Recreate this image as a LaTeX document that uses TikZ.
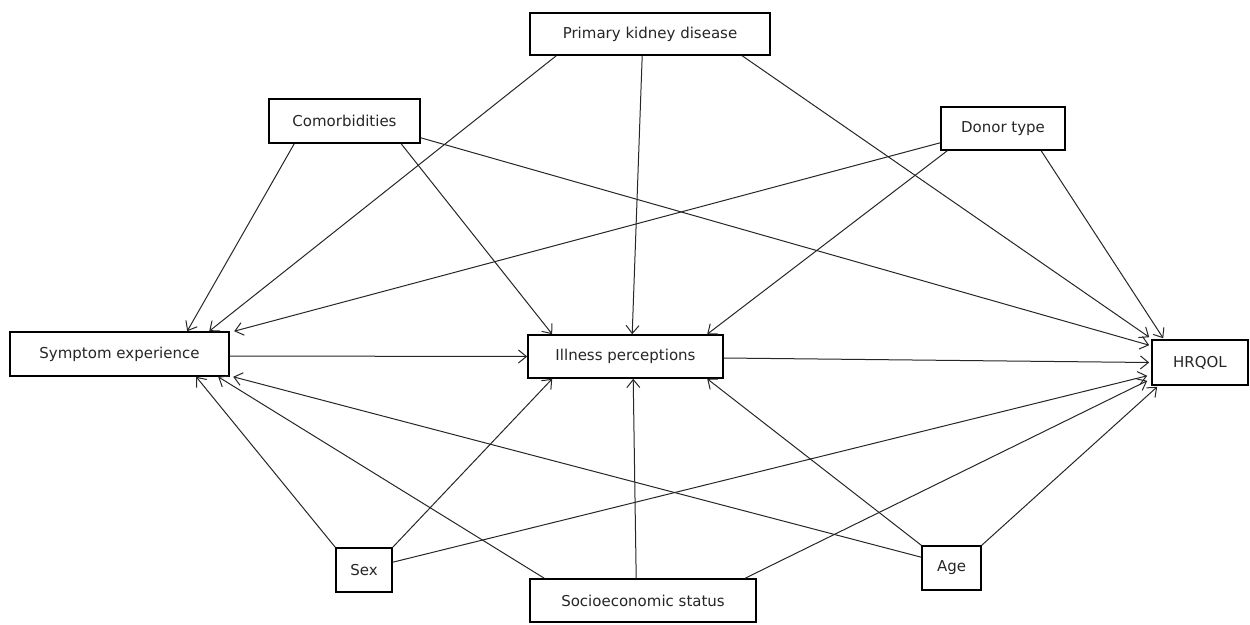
\documentclass[tikz,border=0pt]{standalone}
\usepackage{fontspec}
\setmainfont{DejaVu Sans}
\usetikzlibrary{arrows.meta}
\tikzset{
  box/.style={draw=black, line width=1.6pt, fill=white, inner sep=0pt, font=\fontsize{15}{18}\selectfont, text=black!85},
  arr/.style={draw=black!85, line width=1pt, -{Straight Barb[length=8pt,width=13pt]}},
}
\begin{document}
\begin{tikzpicture}[x=1pt,y=-1pt]
\useasboundingbox (0,0) rectangle (1250,624);
% nodes
\node[box, minimum width=240pt, minimum height=42pt] (pkd) at (650,34) {Primary kidney disease};
\node[box, minimum width=151pt, minimum height=44pt] (com) at (344.5,121) {Comorbidities};
\node[box, minimum width=124pt, minimum height=43pt] (don) at (1003,128.5) {Donor type};
\node[box, minimum width=219pt, minimum height=44pt] (sym) at (119.5,354) {Symptom experience};
\node[box, minimum width=195pt, minimum height=43pt] (ill) at (625.5,356.5) {Illness perceptions};
\node[box, minimum width=96pt, minimum height=45pt] (hrq) at (1200,362.5) {HRQOL};
\node[box, minimum width=56pt, minimum height=44pt] (sex) at (364,570) {Sex};
\node[box, minimum width=59pt, minimum height=44pt] (age) at (951.5,568) {Age};
\node[box, minimum width=226pt, minimum height=43pt] (ses) at (643,600.5) {Socioeconomic status};
% primary kidney disease
\draw[arr] ([xshift=27pt]pkd.south west) -- ([xshift=200pt]sym.north west);
\draw[arr] ([xshift=113pt]pkd.south west) -- ([xshift=105pt]ill.north west);
\draw[arr] ([xshift=213pt]pkd.south west) -- ([xshift=-2pt,yshift=2pt]hrq.north west);
% comorbidities
\draw[arr] ([xshift=26pt]com.south west) -- ([xshift=178pt]sym.north west);
\draw[arr] ([xshift=133pt]com.south west) -- ([xshift=25pt]ill.north west);
\draw[arr] ([yshift=6pt]com.south east) -- ([xshift=-2pt,yshift=-6pt]hrq.north west);
% donor type
\draw[arr] ([yshift=8pt]don.south west) -- ([xshift=225pt]sym.north west);
\draw[arr] ([xshift=7pt]don.south west) -- ([xshift=180pt]ill.north west);
\draw[arr] ([xshift=101pt]don.south west) -- ([xshift=12pt,yshift=1pt]hrq.north west);
% symptom experience and illness perceptions
\draw[arr] ([yshift=-2pt]sym.east) -- (ill.west);
\draw[arr] ([yshift=-1.5pt]ill.east) -- ([xshift=-2pt]hrq.west);
% sex
\draw[arr] (sex.north west) -- ([xshift=187pt]sym.south west);
\draw[arr] (sex.north east) -- ([xshift=25pt]ill.south west);
\draw[arr] ([yshift=-15pt]sex.north east) -- ([xshift=-4pt,yshift=10pt]hrq.south west);
% socioeconomic status
\draw[arr] ([xshift=15pt]ses.north west) -- ([xshift=209pt]sym.south west);
\draw[arr] ([xshift=107pt]ses.north west) -- ([xshift=106pt]ill.south west);
\draw[arr] ([xshift=216pt]ses.north west) -- ([xshift=-4pt,yshift=5pt]hrq.south west);
% age
\draw[arr] ([yshift=-12pt]age.north west) -- ([xshift=224pt]sym.south west);
\draw[arr] (age.north west) -- ([xshift=180pt]ill.south west);
\draw[arr] (age.north east) -- ([xshift=6pt,yshift=-1pt]hrq.south west);
\end{tikzpicture}
\end{document}
